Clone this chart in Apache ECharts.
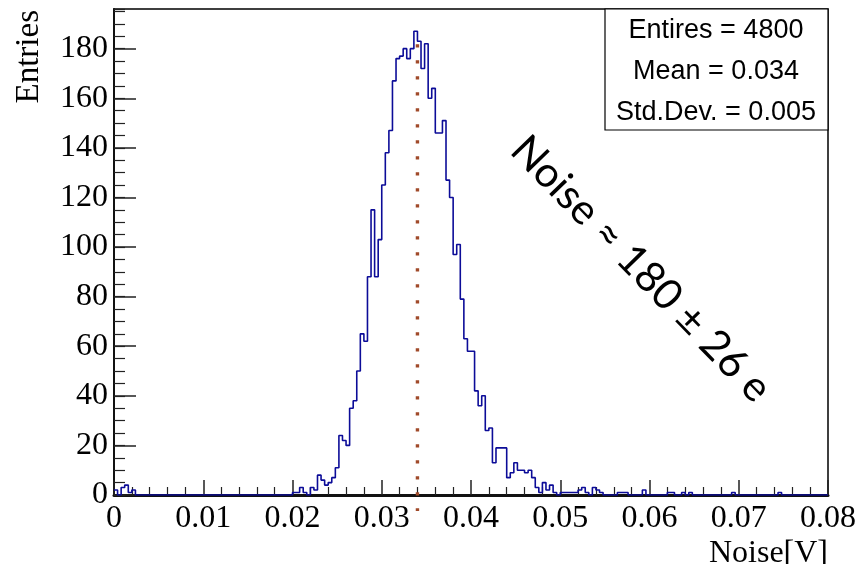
<!DOCTYPE html>
<html>
<head>
<meta charset="utf-8">
<script src="https://cdn.jsdelivr.net/npm/echarts@6/dist/echarts.min.js"></script>
<style>
  html, body { margin: 0; padding: 0; background: #ffffff; }
  #chart { width: 861px; height: 564px; }
</style>
</head>
<body>
<div id="chart"></div>
<script>
// Noise histogram: 200 equal bins over [0, 0.08] V
const binLow = 0;
const binWidth = 0.0004;
const counts = [
  2, 0, 3, 4, 1, 2, 0, 0, 0, 0,
  0, 0, 0, 0, 0, 0, 0, 0, 0, 0,
  0, 0, 0, 0, 0, 0, 0, 0, 0, 0,
  0, 0, 0, 0, 0, 0, 0, 0, 0, 0,
  0, 0, 0, 0, 0, 0, 0, 0, 0, 0,
  1, 1, 3, 1, 0, 3, 2, 8, 6, 4,
  5, 7, 11, 24, 22, 20, 35, 38, 50, 65,
  62, 88, 115, 88, 103, 125, 138, 147, 167, 176,
  177, 180, 176, 180, 187, 183, 172, 182, 160, 164,
  146, 146, 151, 127, 120, 97, 101, 79, 63, 58,
  58, 42, 36, 40, 26, 27, 13, 19, 19, 19,
  7, 9, 13, 10, 10, 9, 10, 7, 3, 1,
  5, 2, 4, 1, 0, 1, 1, 1, 1, 1,
  2, 3, 1, 0, 3, 2, 1, 0, 0, 0,
  0, 1, 1, 1, 0, 0, 0, 0, 2, 0,
  0, 0, 0, 0, 0, 1, 1, 0, 0, 1,
  0, 1, 0, 0, 0, 0, 0, 0, 0, 0,
  0, 0, 0, 1, 0, 0, 0, 0, 0, 0,
  0, 0, 0, 0, 0, 0, 1, 0, 0, 0,
  0, 0, 0, 0, 0, 0, 0, 0, 0, 0
];

// Axis ranges
const xMin = 0, xMax = 0.08, xStep = 0.01;
const yMin = 0, yMax = 196, yStep = 20, yMinorStep = 5;

// Summary box and annotation
const statsLines = ['Entires = 4800', 'Mean = 0.034', 'Std.Dev. = 0.005'];
const meanValue = 0.034;
const meanLineSpan = [181.8, -6.5];
const noiseNote = 'Noise \u2248 180 \u00b1 26 e';
const xName = 'Noise[V]';
const yName = 'Entries';

// Step outline: one point per bin low edge, plus the closing upper edge
const histPoints = counts.map((c, i) => [binLow + i * binWidth, c]);
histPoints.push([binLow + counts.length * binWidth, counts[counts.length - 1]]);

const serif = 'Liberation Serif';
const sans = 'Liberation Sans';

const chart = echarts.init(document.getElementById('chart'), null, { renderer: 'canvas' });

chart.setOption({
  animation: false,
  backgroundColor: '#ffffff',
  grid: {
    left: 114, right: 33, top: 9, bottom: 69,
    containLabel: false,
    outerBoundsMode: 'none',
    show: true, borderColor: '#000000', borderWidth: 1.5, backgroundColor: 'transparent'
  },
  xAxis: {
    type: 'value',
    min: xMin, max: xMax, interval: xStep,
    axisLine: { show: true, lineStyle: { color: '#111111', width: 3 } },
    axisTick: { show: true, inside: true, length: 15, lineStyle: { color: '#222222', width: 1.5 } },
    minorTick: { show: true, splitNumber: 5, length: 8, lineStyle: { color: '#222222', width: 1.2 } },
    splitLine: { show: false },
    axisLabel: {
      margin: 8, color: '#000000', fontFamily: serif, fontSize: 32,
      formatter: v => String(+v.toFixed(2))
    }
  },
  yAxis: [
    {
      type: 'value',
      min: yMin, max: yMax, interval: yStep,
      axisLine: { show: true, lineStyle: { color: '#111111', width: 2 } },
      axisTick: { show: true, inside: true, length: 22, lineStyle: { color: '#222222', width: 1.5 } },
      splitLine: { show: false },
      axisLabel: {
        margin: 6, color: '#000000', fontFamily: serif, fontSize: 32,
        showMaxLabel: false
      }
    },
    {
      type: 'value',
      position: 'left',
      min: yMin, max: yMax, interval: yMinorStep,
      axisLine: { show: false },
      axisTick: { show: true, inside: true, length: 11, lineStyle: { color: '#222222', width: 1.2 } },
      splitLine: { show: false },
      axisLabel: { show: false }
    }
  ],
  series: [
    {
      name: 'noise',
      type: 'line',
      step: 'end',
      data: histPoints,
      symbol: 'none',
      lineStyle: { color: '#0c0c98', width: 1.6 },
      z: 3
    },
    {
      name: 'mean',
      type: 'line',
      data: [[meanValue, meanLineSpan[0]], [meanValue, meanLineSpan[1]]],
      symbol: 'none',
      clip: false,
      lineStyle: { color: '#a04a2a', width: 3.4, type: [3.4, 12.6], cap: 'butt' },
      z: 4
    }
  ],
  graphic: [
    {
      type: 'text',
      x: 29, y: 10,
      rotation: Math.PI / 2,
      style: {
        text: yName, fill: '#000000',
        fontFamily: serif, fontSize: 33,
        align: 'right', verticalAlign: 'middle'
      }
    },
    {
      type: 'text',
      x: 828, y: 538,
      style: {
        text: xName, fill: '#000000',
        fontFamily: serif, fontSize: 32,
        align: 'right', verticalAlign: 'top'
      }
    },
    {
      type: 'rect',
      shape: { x: 605, y: 9, width: 223, height: 121 },
      style: { fill: '#ffffff', stroke: '#000000', lineWidth: 1.2 },
      z: 10
    },
    ...statsLines.map((t, i) => ({
      type: 'text',
      x: 716, y: 31 + i * 40.8,
      style: {
        text: t, fill: '#000000',
        fontFamily: sans, fontSize: 27,
        align: 'center', verticalAlign: 'middle'
      },
      z: 11
    })),
    {
      type: 'text',
      x: 641, y: 269,
      rotation: -0.8,
      style: {
        text: noiseNote, fill: '#000000',
        fontFamily: 'Lato', fontSize: 42,
        align: 'center', verticalAlign: 'middle'
      },
      z: 11
    }
  ]
});
</script>
</body>
</html>
